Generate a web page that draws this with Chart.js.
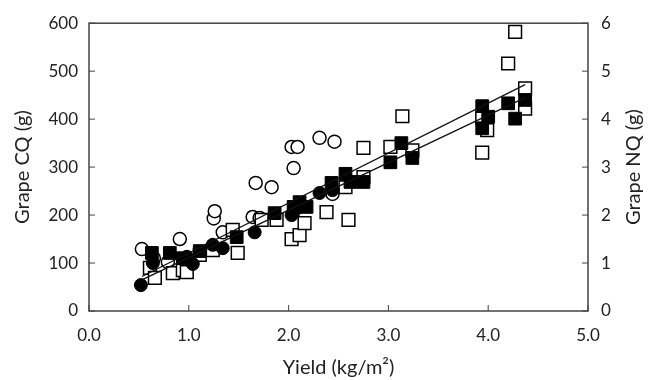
<!DOCTYPE html>
<html><head><meta charset="utf-8">
<script src="https://cdn.jsdelivr.net/npm/chart.js@4"></script>
<style>html,body{margin:0;padding:0;background:#fff}#wrap{width:649px;height:380px}</style>
</head><body><div id="wrap"><canvas id="c" width="649" height="380"></canvas></div>
<script>
// Yield (kg/m2) and Grape CQ (g) — circles
const cqOpenX = [0.53,0.65,0.79,0.91,1.25,1.26,1.34,1.64,1.71,1.67,1.83,2.05,2.03,2.09,2.31,2.46,2.44];
const cqOpenY = [129,110,102,150,193,208,164,196,194,267,258,298,342,342,361,353,244];
const cqFilledX = [0.52,0.64,0.98,1.04,1.24,1.34,1.66,2.03,2.05,2.11,2.31,2.44];
const cqFilledY = [54,100,113,98,138,131,164,200,206,217,246,252];
// Yield and Grape NQ (g) — squares
const nqFilledX = [0.63,0.81,0.94,1.11,1.48,1.86,2.05,2.11,2.18,2.43,2.57,2.62,2.75,3.02,3.13,3.24,3.94,3.94,4.00,4.20,4.27,4.37];
const nqFilledY = [1.21,1.21,1.10,1.25,1.54,2.04,2.17,2.27,2.17,2.67,2.86,2.69,2.69,3.10,3.50,3.19,4.27,3.81,4.05,4.33,4.01,4.40];
const nqOpenX = [0.61,0.66,0.84,0.94,0.98,1.11,1.24,1.49,1.44,1.73,1.88,2.03,2.11,2.16,2.38,2.60,2.57,2.75,2.75,3.02,3.14,3.24,3.94,3.99,3.94,4.20,4.27,4.37,4.37];
const nqOpenY = [0.90,0.69,0.79,0.85,0.81,1.17,1.27,1.21,1.69,1.90,1.90,1.50,1.58,1.83,2.06,1.90,2.58,2.79,3.40,3.42,4.06,3.35,4.02,3.77,3.30,5.16,5.82,4.64,4.22];
// regression lines (CQ scale)
const lineAX = [0.53,4.37], lineAY = [72,472];
const lineBX = [0.53,4.37], lineBY = [65,445];
// tick labels
const xTickLabels = ['0.0','1.0','2.0','3.0','4.0','5.0'];
const yLeftTicks = [0,100,200,300,400,500,600];
const yRightTicks = [0,1,2,3,4,5,6];

const pts = (xs, ys) => xs.map((x,i)=>({x:x,y:ys[i]}));
const FONT = 'Lato, "Open Sans", sans-serif';
const TXT = '#222';

const framePlugin = {
  id:'frame',
  afterDraw(chart){
    const {ctx, chartArea:a, scales} = chart;
    ctx.save();
    ctx.strokeStyle = '#444'; ctx.lineWidth = 1.5;
    ctx.strokeRect(a.left, a.top, a.right-a.left, a.bottom-a.top);
    ctx.lineWidth = 1;
    const L = 6;
    ctx.beginPath();
    scales.x.ticks.forEach(t=>{ const p = scales.x.getPixelForValue(t.value); ctx.moveTo(p,a.bottom); ctx.lineTo(p,a.bottom-L); });
    scales.y.ticks.forEach(t=>{ const p = scales.y.getPixelForValue(t.value); ctx.moveTo(a.left,p); ctx.lineTo(a.left+L,p); });
    scales.y2.ticks.forEach(t=>{ const p = scales.y2.getPixelForValue(t.value); ctx.moveTo(a.right,p); ctx.lineTo(a.right-L,p); });
    ctx.stroke();
    // right axis title, reading bottom-to-top
    ctx.fillStyle = TXT; ctx.font = '20px ' + FONT;
    ctx.textAlign = 'center'; ctx.textBaseline = 'middle';
    ctx.translate(634, (a.top+a.bottom)/2);
    ctx.rotate(-Math.PI/2);
    ctx.fillText('Grape NQ (g)', 0, 0);
    ctx.restore();
  }
};

new Chart(document.getElementById('c'), {
  type:'scatter',
  data:{ datasets:[
    {data:pts(lineAX,lineAY), type:'line', showLine:true, borderColor:'#111', borderWidth:1.3, pointRadius:0, yAxisID:'y', order:0},
    {data:pts(lineBX,lineBY), type:'line', showLine:true, borderColor:'#111', borderWidth:1.3, pointRadius:0, yAxisID:'y', order:0},
    {data:pts(cqOpenX,cqOpenY), pointStyle:'circle', pointRadius:6.5, backgroundColor:'#fff', borderColor:'#000', borderWidth:1.5, yAxisID:'y', order:4},
    {data:pts(nqOpenX,nqOpenY), pointStyle:'rect', pointRadius:9, backgroundColor:'#fff', borderColor:'#000', borderWidth:1.5, yAxisID:'y2', order:3},
    {data:pts(cqFilledX,cqFilledY), pointStyle:'circle', pointRadius:6.5, backgroundColor:'#000', borderColor:'#000', borderWidth:1, yAxisID:'y', order:2},
    {data:pts(nqFilledX,nqFilledY), pointStyle:'rect', pointRadius:9, backgroundColor:'#000', borderColor:'#000', borderWidth:1, yAxisID:'y2', order:1}
  ]},
  options:{
    responsive:false, animation:false, devicePixelRatio:1,
    layout:{padding:{top:23,left:0,right:0,bottom:0}},
    plugins:{legend:{display:false}, tooltip:{enabled:false}},
    scales:{
      x:{type:'linear', min:0, max:5,
        afterBuildTicks(s){ s.ticks = xTickLabels.map(v=>({value:parseFloat(v)})); },
        afterFit(s){ s.height = 69; },
        grid:{display:false, drawTicks:false}, border:{display:false},
        ticks:{padding:14, color:TXT, font:{family:FONT,size:17}, maxRotation:0, callback:(v)=>xTickLabels[Math.round(v)]},
        title:{display:true, text:'Yield (kg/m²)', color:TXT, font:{family:FONT,size:20}, padding:{top:2,bottom:0}}
      },
      y:{type:'linear', position:'left', min:0, max:600,
        afterBuildTicks(s){ s.ticks = yLeftTicks.map(v=>({value:v})); },
        afterFit(s){ s.width = 89; },
        grid:{display:false, drawTicks:false}, border:{display:false},
        ticks:{padding:11, color:TXT, font:{family:FONT,size:17}},
        title:{display:true, text:'Grape CQ (g)', color:TXT, font:{family:FONT,size:20}, padding:{top:11,bottom:0}}
      },
      y2:{type:'linear', position:'right', min:0, max:6,
        afterBuildTicks(s){ s.ticks = yRightTicks.map(v=>({value:v})); },
        afterFit(s){ s.width = 61; },
        grid:{display:false, drawTicks:false}, border:{display:false},
        ticks:{padding:13, color:TXT, font:{family:FONT,size:17}}
      }
    }
  },
  plugins:[framePlugin]
});
</script></body></html>
